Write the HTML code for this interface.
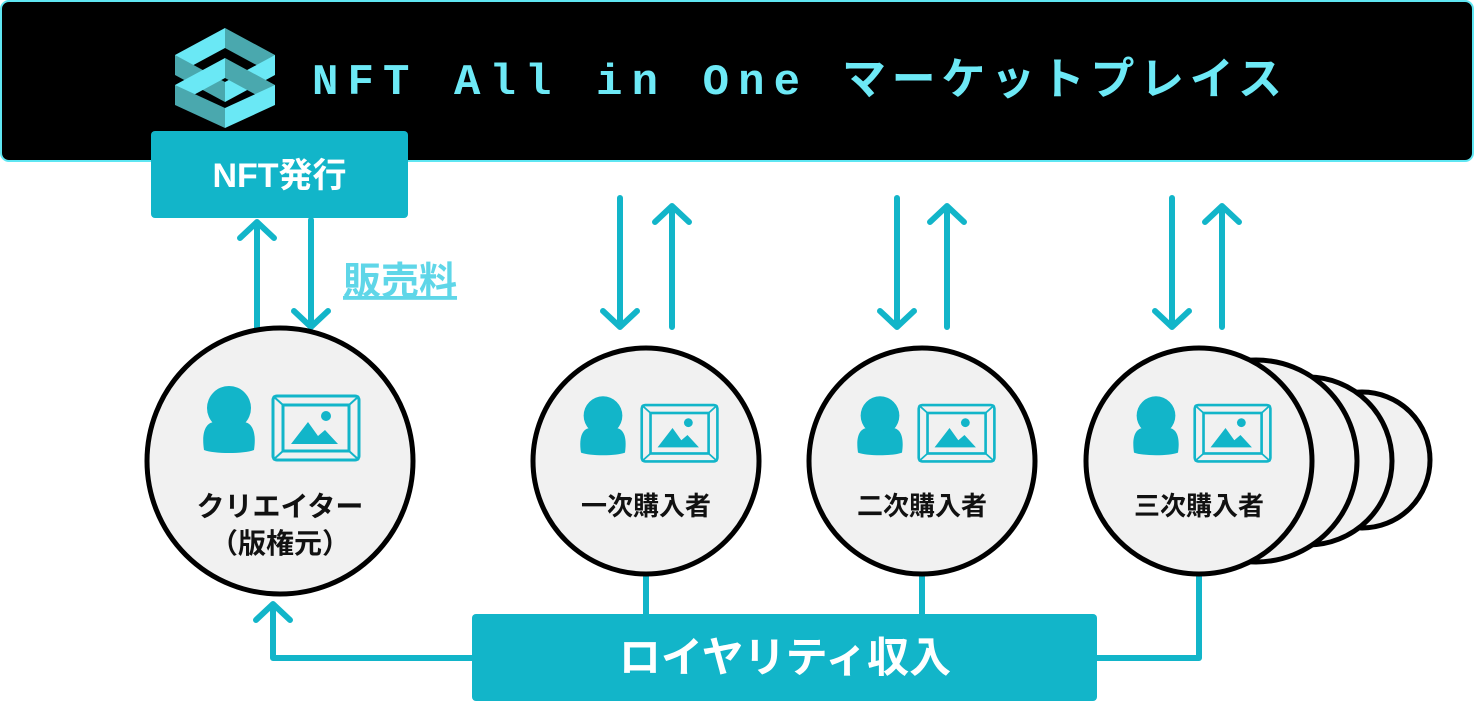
<!DOCTYPE html>
<html><head><meta charset="utf-8"><style>
html,body{margin:0;padding:0;background:#fff;}
svg{display:block;}
</style></head><body>
<svg width="1475" height="709" viewBox="0 0 1475 709" xmlns="http://www.w3.org/2000/svg">
<rect x="1" y="1" width="1472" height="160" rx="8" fill="#000" stroke="#5fe6f2" stroke-width="2"/>
<g>
<polygon points="225,28 275,55 275,75 225,48" fill="#4aa8ae"/>
<polygon points="225,28 175,55 175,75 225,48" fill="#6ae8f5"/>
<polygon points="175,55 225,82 225,102 175,75" fill="#4aa8ae"/>
<polygon points="225,82 275,55 275,75 225,102" fill="#6ae8f5"/>
<polygon points="225,58 175,85 175,105 225,78" fill="#6ae8f5"/>
<polygon points="225,58 275,85 275,105 225,78" fill="#4aa8ae"/>
<polygon points="175,105 225,128 225,108 175,85" fill="#4aa8ae"/>
<polygon points="225,128 275,105 275,85 225,108" fill="#6ae8f5"/>
</g>
<text x="312" y="94" font-family="Liberation Mono, monospace" font-size="44" font-weight="bold" fill="#6de9f6" textLength="488" lengthAdjust="spacing">NFT All in One</text>
<text x="842" y="94" font-family="'Liberation Sans','Noto Sans CJK JP',sans-serif" font-size="44" font-weight="bold" fill="#6de9f6" textLength="440" lengthAdjust="spacing">マーケットプレイス</text>
<rect x="151" y="131" width="257" height="87" rx="4" fill="#12b5c9"/>
<text x="279.5" y="187" text-anchor="middle" font-family="'Liberation Sans','Noto Sans CJK JP',sans-serif" font-size="34" font-weight="bold" fill="#fff">NFT発行</text>
<g stroke="#12b5c9" stroke-width="6" stroke-linecap="round" stroke-linejoin="round" fill="none">
<path d="M257 328 V222 M240 238 L257 222 L274 238"/>
<path d="M311 220 V327 M294 311 L311 327 L328 311"/>
<path d="M620 198 V327 M603 311 L620 327 L637 311"/>
<path d="M672 327 V206 M655 222 L672 206 L689 222"/>
<path d="M897 198 V327 M880 311 L897 327 L914 311"/>
<path d="M947 327 V206 M930 222 L947 206 L964 222"/>
<path d="M1172 198 V327 M1155 311 L1172 327 L1189 311"/>
<path d="M1222 327 V206 M1205 222 L1222 206 L1239 222"/>
<path d="M646 575 V616 M922 575 V616"/>
<path d="M1199 573 V658 H1095"/>
<path d="M474 658 H273 V605 M256 620 L273 604 L290 620"/>
</g>
<text x="343" y="294" font-family="'Liberation Sans','Noto Sans CJK JP',sans-serif" font-size="38" font-weight="bold" fill="#5fd6e8" text-decoration="underline">販売料</text>
<g stroke="#000" stroke-width="5" fill="#f1f1f1">
<circle cx="1362" cy="460" r="68"/>
<circle cx="1308" cy="461" r="84"/>
<circle cx="1256" cy="461" r="101"/>
<circle cx="1199" cy="461" r="113"/>
<circle cx="922" cy="461" r="113"/>
<circle cx="646" cy="461" r="113"/>
<circle cx="280" cy="461" r="133"/>
</g>
<defs>
<g id="ic">
<circle cx="0" cy="-22" r="22" fill="#12b5c9"/>
<path d="M-25 20 C-28 0 -22 -8 -14 -8 C-8 -4 8 -4 14 -8 C22 -8 28 0 25 20 C15 24 -15 24 -25 20 Z" fill="#12b5c9"/>
<rect x="44" y="-34" width="86" height="64" rx="4" fill="none" stroke="#12b5c9" stroke-width="3"/>
<rect x="54" y="-25" width="66" height="46" fill="none" stroke="#12b5c9" stroke-width="3"/>
<path d="M44 -34 L54 -25 M130 -34 L120 -25 M44 30 L54 21 M130 30 L120 21" stroke="#12b5c9" stroke-width="2"/>
<polygon points="62,14 79,-8 89,6 96,0 109,14" fill="#12b5c9"/>
<circle cx="97" cy="-14" r="5" fill="#12b5c9"/>
</g>
</defs>
<use href="#ic" transform="translate(229,430)"/>
<use href="#ic" transform="translate(603,435) scale(0.88)"/>
<use href="#ic" transform="translate(880,435) scale(0.88)"/>
<use href="#ic" transform="translate(1156,435) scale(0.88)"/>
<g font-family="'Liberation Sans','Noto Sans CJK JP',sans-serif" font-weight="bold" fill="#111" text-anchor="middle">
<text x="280" y="516" font-size="28">クリエイター</text>
<text x="280" y="553" font-size="28">（版権元）</text>
<text x="646" y="515" font-size="26">一次購入者</text>
<text x="922" y="515" font-size="26">二次購入者</text>
<text x="1199" y="515" font-size="26">三次購入者</text>
</g>
<rect x="472" y="614" width="625" height="87" rx="4" fill="#12b5c9"/>
<text x="785" y="672" text-anchor="middle" font-family="'Liberation Sans','Noto Sans CJK JP',sans-serif" font-size="42" font-weight="bold" fill="#fff">ロイヤリティ収入</text>
</svg>
</body></html>
